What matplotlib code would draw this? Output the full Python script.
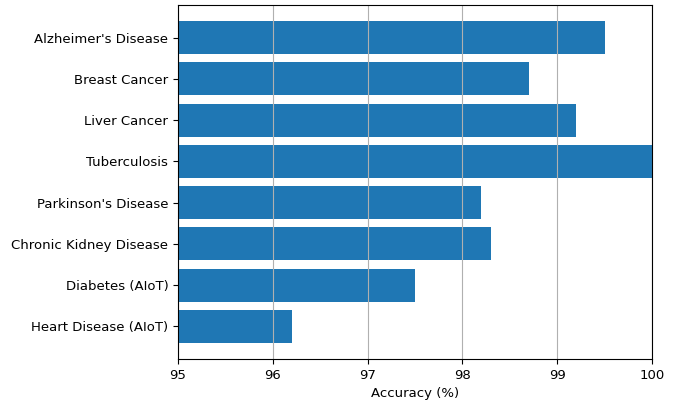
import matplotlib
matplotlib.use("Agg")
import matplotlib.pyplot as plt

diseases = [
    "Alzheimer's Disease",
    "Breast Cancer",
    "Liver Cancer",
    "Tuberculosis",
    "Parkinson's Disease",
    "Chronic Kidney Disease",
    "Diabetes (AIoT)",
    "Heart Disease (AIoT)",
]
accuracy = [99.5, 98.7, 99.2, 100.0, 98.2, 98.3, 97.5, 96.2]

plt.rcParams["font.size"] = 9.5

fig = plt.figure(figsize=(6.88, 4.05), dpi=100)
ax = fig.add_axes([178 / 688, 1 - 359 / 405, (652 - 178) / 688, (359 - 5) / 405])

ax.barh(diseases, accuracy, color="#1f77b4")
ax.invert_yaxis()
ax.set_xlim(95, 100)
ax.set_xlabel("Accuracy (%)")
ax.grid(axis="x")

fig.savefig("out.png", dpi=100)
